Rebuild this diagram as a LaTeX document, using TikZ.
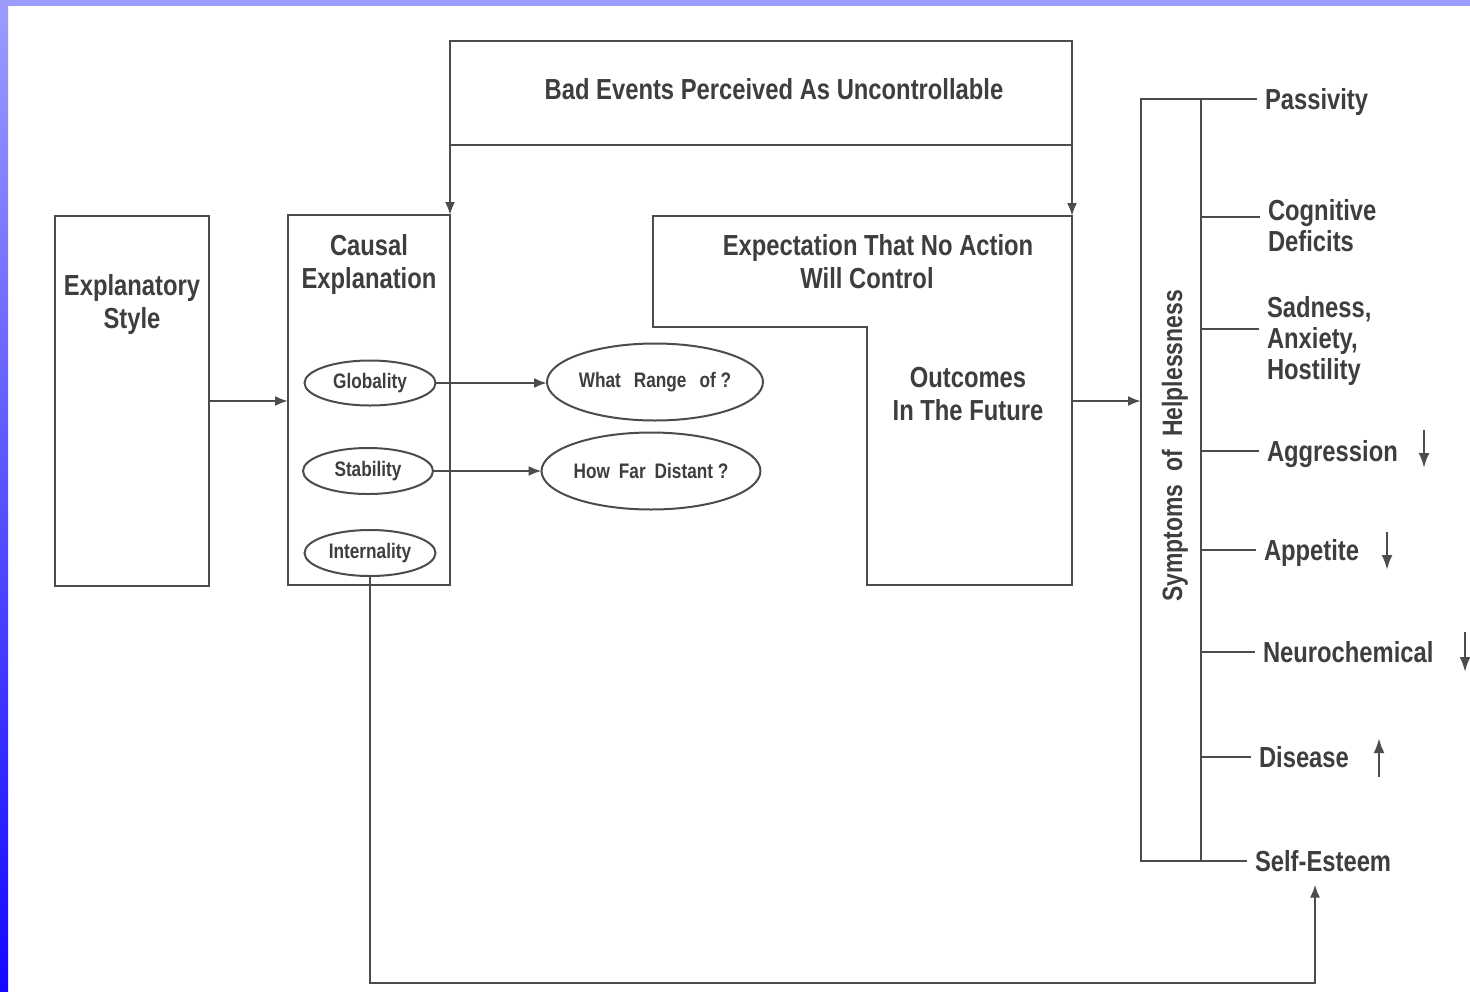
\documentclass[tikz,border=0pt]{standalone}
\usepackage{fontspec}
\setmainfont{Liberation Sans}[FakeStretch=0.82]
\usetikzlibrary{arrows.meta, shapes.geometric}
\definecolor{ink}{HTML}{4C4C4C}
\definecolor{txt}{HTML}{3E3E3E}
\definecolor{lav}{HTML}{9C9CFF}
\definecolor{deep}{HTML}{1408FF}
\tikzset{
  box/.style={draw=ink, line width=2.2pt, inner sep=0pt, outer sep=0pt},
  oval/.style={ellipse, draw=ink, line width=2pt, inner sep=0pt, outer sep=0pt,
    font=\fontsize{21}{24}\selectfont\bfseries, text=txt},
  lbl/.style={font=\fontsize{29}{33}\selectfont\bfseries, text=txt,
    align=center, inner sep=0pt},
  link/.style={draw=ink, line width=2.2pt},
  arr/.style={link, -{Latex[length=13pt,width=10pt]}},
  symtxt/.style={font=\fontsize{29}{31}\selectfont\bfseries, text=txt,
    align=left, anchor=west, inner xsep=8pt, inner ysep=0pt, outer sep=0pt},
  single/.style={symtxt, text height=21pt, text depth=0pt},
  trend/.style={draw=ink, line width=2.6pt, -{Latex[length=15pt,width=11pt]}},
}

\begin{document}
\begin{tikzpicture}[x=1pt, y=1pt]
\useasboundingbox (0,0) rectangle (1470,-991);
\fill[white] (0,0) rectangle (1470,-991);
\shade[top color=lav, bottom color=deep] (0,0) rectangle (8,-991);
\fill[lav] (0,0) rectangle (1470,-6);

% left part
\node[box, minimum width=154pt, minimum height=370pt] (expl) at (132,-401) {};
\node[lbl] (explt) at (132,-304) {Explanatory\\Style};
\node[box, minimum width=162pt, minimum height=370pt] (causal) at (369,-400) {};
\node[lbl] (causalt) at (369,-264) {Causal\\Explanation};

\node[oval, minimum width=131pt, minimum height=45pt] (glob) at (370,-383) {Globality};
\node[oval, minimum width=130pt, minimum height=46pt] (stab) at (368,-471) {Stability};
\node[oval, minimum width=131pt, minimum height=46pt] (intl) at (370,-553) {Internality};
\node[oval, minimum width=216pt, minimum height=77pt] (range) at (655,-382) {What\hspace{13pt}Range\hspace{13pt}of ?};
\node[oval, minimum width=217pt, minimum height=77pt] (dist) at (651,-471) {How\hspace{9pt}Far\hspace{9pt}Distant ?};

% top box and expectation
\node[box, minimum width=622pt, minimum height=104pt] (bad) at (761,-93) {};
\node[lbl] (badt) at (774,-89) {Bad Events Perceived As Uncontrollable};
\draw[link] (653,-216) coordinate (expNW) -- (1072,-216) coordinate (expNE)
  -- (1072,-585) -- (867,-585) -- (867,-327) -- (653,-327) -- cycle;
\node[lbl] (expt) at (878,-262) {Expectation That No Action\\Will Control\hspace*{22pt}};
\node[lbl] (outt) at (968,-394) {Outcomes\\In The Future};
\coordinate (outR) at (1072,-401);

% symptoms
\node[box, minimum width=60pt, minimum height=762pt] (symp) at (1171,-480) {};
\node[lbl, font=\fontsize{28}{30}\selectfont\bfseries, rotate=90, text height=20pt,
  text depth=0pt] (sympt) at (1172,-446) {Symptoms\hspace{13pt}of\hspace{13pt}Helplessness};

\node[single] (pass) at (1257,-99) {Passivity};
\node[symtxt] (cog) at (1260,-225.5) {Cognitive\\Deficits};
\node[symtxt] (sad) at (1259,-341) {Sadness,\\Anxiety,\\Hostility};
\node[single] (aggr) at (1259,-451) {Aggression};
\node[single] (appe) at (1256,-550) {Appetite};
\node[single] (neur) at (1255,-652) {Neurochemical};
\node[single] (dis) at (1251,-757) {Disease};
\node[single] (self) at (1247,-861) {Self-Esteem};

% connectors
\draw[arr] (expl.east) -- (expl.east -| causal.west);
\draw[arr] (glob.east) -- (glob.east -| range.west);
\draw[arr] (stab.east) -- (stab.east -| dist.west);
\draw[arr] (bad.south west) -- (causal.north east);
\draw[arr] (bad.south east) -- (expNE);
\draw[arr] (outR) -- (outR -| symp.west);

\draw[link] (symp.north east) -- (pass.west);
\draw[link] (symp.south east) -- (self.west);
\draw[link] (symp.east |- 0,-217) -- (cog.west |- 0,-217);
\draw[link] (symp.east |- 0,-329) -- (sad.west |- 0,-329);
\foreach \n in {aggr, appe, neur, dis}
  \draw[link] (symp.east |- \n.west) -- (\n.west);

\coordinate (fbk) at (1315,-983);
\draw[arr, shorten >=13pt] (intl.south) |- (fbk) -- (fbk |- self.south);

% up and down marks
\draw[trend] (1424,-430) -- (1424,-468);
\draw[trend] (1387,-532) -- (1387,-570);
\draw[trend] (1465,-632) -- (1465,-672);
\draw[trend] (1379,-777) -- (1379,-738);
\end{tikzpicture}
\end{document}
